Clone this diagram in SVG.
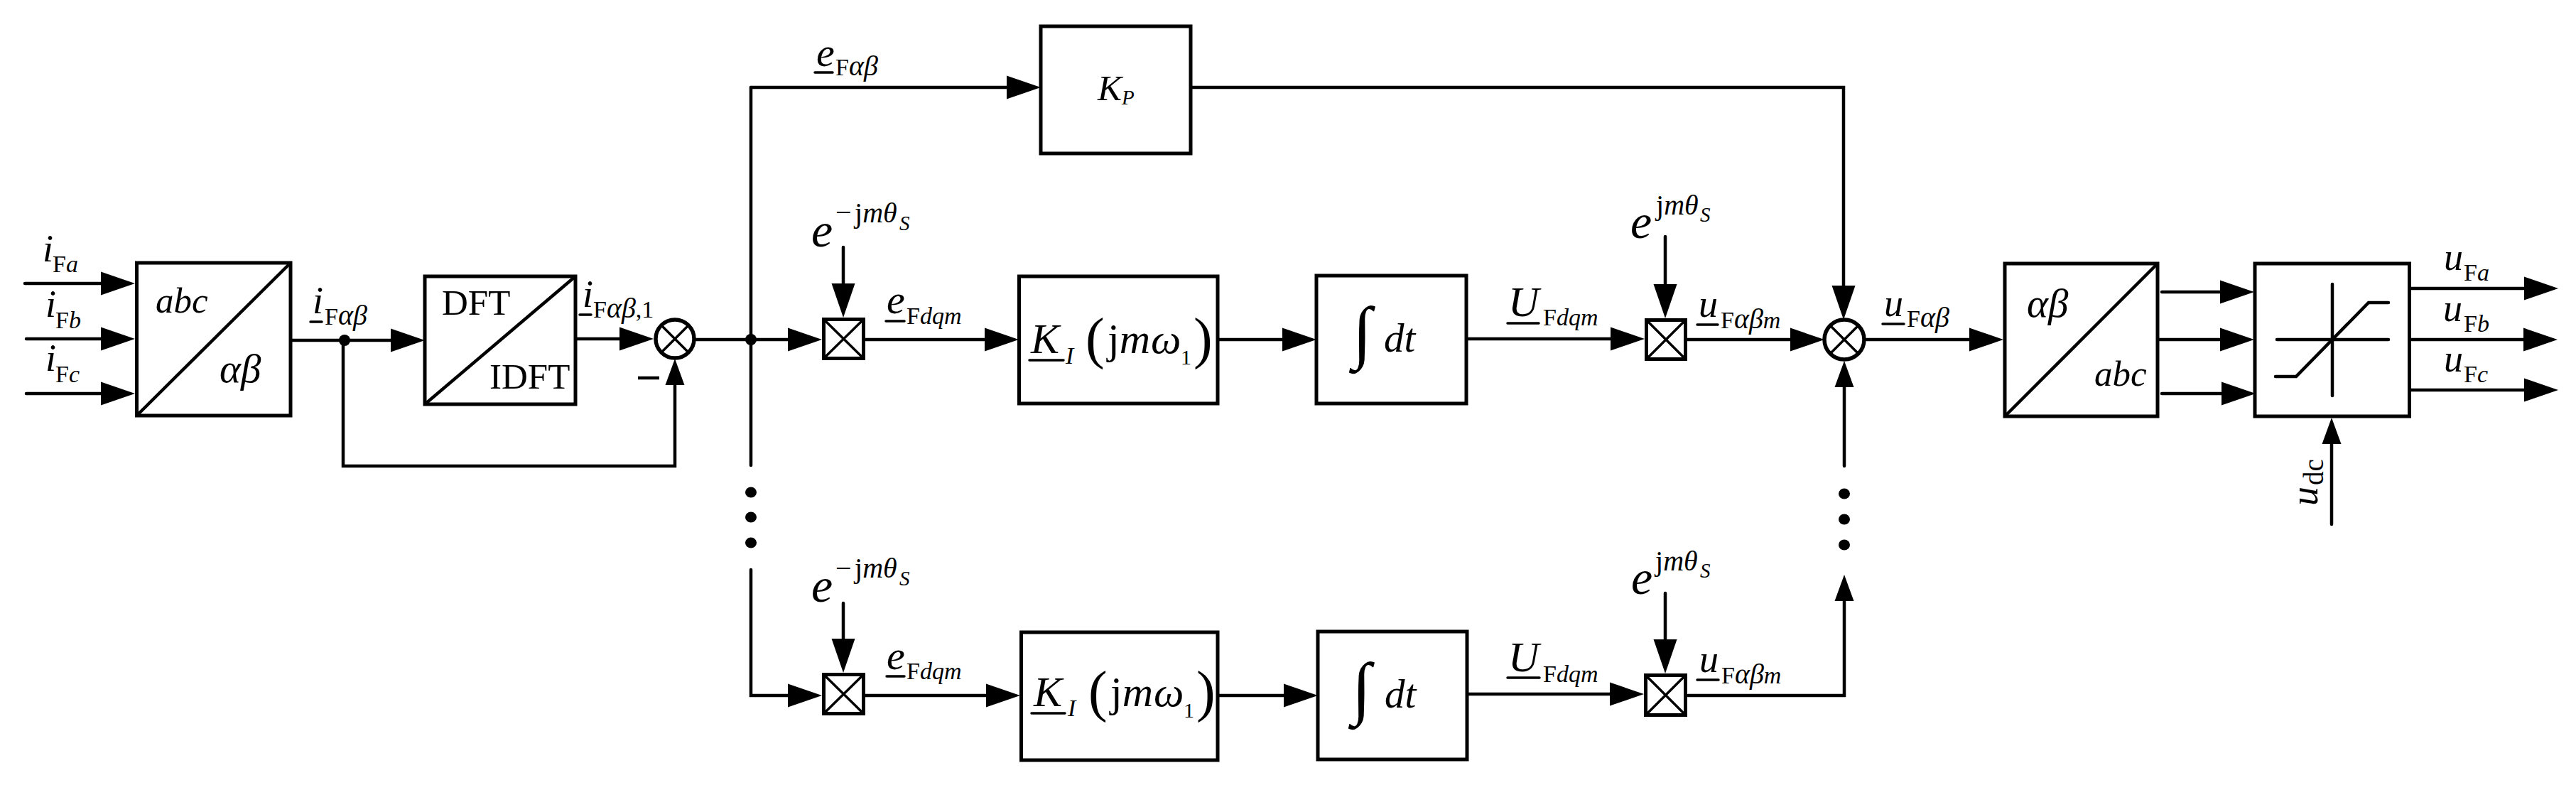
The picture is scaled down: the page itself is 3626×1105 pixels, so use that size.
<svg xmlns="http://www.w3.org/2000/svg" width="3626" height="1105" viewBox="0 0 3626 1105">
<defs>
<style>
text{font-family:"Liberation Serif","Times New Roman",serif;font-style:italic;font-size:54px;fill:#000}
.s{font-size:34px}
.g{font-size:40px}
.r{font-style:normal}
.b{font-size:51px}
.bg{font-size:57px}
.e{font-size:68px}
.le{font-size:58px}
.l{font-size:60px}
.dt{font-size:57px}
.p{font-size:80px;font-style:normal}
.int{font-size:98px;font-style:normal}
.sup{font-size:40px}
.ss{font-size:29px}
.one{font-size:30px;font-style:normal}
.dc{font-size:39px;font-style:normal}
.box{fill:#fff;stroke:#000;stroke-width:5}
.thin{fill:none;stroke:#000;stroke-width:4.5}
.x{fill:none;stroke:#000;stroke-width:3.5}
.ul{fill:none;stroke:#000;stroke-width:3.5;stroke-linecap:round}
.con{fill:none;stroke:#000;stroke-width:4.5;stroke-linecap:round;marker-end:url(#arrow)}
.con2{fill:none;stroke:#000;stroke-width:4.5;stroke-linecap:round;marker-end:url(#arrowN)}
.plain{fill:none;stroke:#000;stroke-width:4.5;stroke-linecap:round}
.sum{fill:#fff;stroke:#000;stroke-width:5.5}
</style>
<marker id="arrow" markerUnits="userSpaceOnUse" markerWidth="50" markerHeight="34" refX="38" refY="17" orient="auto"><path d="M0 0.5L48 17L0 33.5z"/></marker>
<marker id="arrowN" markerUnits="userSpaceOnUse" markerWidth="40" markerHeight="30" refX="27" refY="14" orient="auto"><path d="M0 0.5L37 14L0 27.5z"/></marker>
</defs>
<rect width="3626" height="1105" fill="#fff"/>
<g id="connectors">
<path class="con" d="M35 399H180"/>
<path class="con" d="M37 477H180"/>
<path class="con" d="M37 554H180"/>
<path class="con" d="M410 479H588"/>
<path class="con2" d="M483 479V656H950V515"/>
<path class="con" d="M812 477H910"/>
<path class="con" d="M979 478H1147"/>
<path class="plain" d="M1057 123V655"/>
<path class="con" d="M1057 802V979H1147"/>
<path class="con" d="M1057 123H1455"/>
<path class="con" d="M1678 123H2595V440"/>
<path class="con" d="M1187 348V437"/>
<path class="con" d="M1218 478H1424"/>
<path class="con" d="M1716 478H1843"/>
<path class="con" d="M2066 477H2305"/>
<path class="con" d="M2344 333V438"/>
<path class="con" d="M2375 478H2558"/>
<path class="con2" d="M2596 656V518"/>
<path class="con" d="M2627 478H2810"/>
<path class="con" d="M3043 411H3163"/>
<path class="con" d="M3039 478H3163"/>
<path class="con" d="M3043 554H3165"/>
<path class="con" d="M3393 406H3591"/>
<path class="con" d="M3393 478H3590"/>
<path class="con" d="M3393 549H3591"/>
<path class="con2" d="M3282 738V598"/>
<path class="con" d="M1187 849V937"/>
<path class="con" d="M1218 979H1426"/>
<path class="con" d="M1716 979H1845"/>
<path class="con" d="M2067 977H2304"/>
<path class="con" d="M2344 835V938"/>
<path class="con2" d="M2376 979H2596V819"/>
<circle cx="485" cy="479" r="8"/>
<circle cx="1057" cy="478" r="8"/>
</g>
<g id="dots">
<ellipse cx="1057" cy="693" rx="8" ry="7.5"/><ellipse cx="1057" cy="728" rx="8" ry="7.5"/><ellipse cx="1057" cy="764" rx="8" ry="7.5"/>
<ellipse cx="2596" cy="695" rx="8" ry="7.5"/><ellipse cx="2596" cy="731" rx="8" ry="7.5"/><ellipse cx="2596" cy="767" rx="8" ry="7.5"/>
</g>
<g id="abc-ab">
<rect class="box" x="192.5" y="370" width="216.5" height="215"/>
<path class="thin" d="M192.5 585L409 370"/>
<text class="b" x="219" y="440">abc</text>
<text class="bg" x="309" y="538">αβ</text>
</g>
<g id="dft">
<rect class="box" x="598" y="389" width="212" height="180"/>
<path class="thin" d="M598 569L810 389"/>
<text class="b r" x="622" y="443">DFT</text>
<text class="b r" x="689" y="547">IDFT</text>
</g>
<g id="sum1">
<circle class="sum" cx="950" cy="477" r="27"/>
<path class="x" d="M931 458L969 496M969 458L931 496"/>
<path class="thin" d="M898 532H928"/>
</g>
<g id="kp">
<rect class="box" x="1465" y="37" width="211" height="179"/>
<text class="b" x="1545" y="141">K<tspan class="ss" x="1579" y="147">P</tspan></text>
</g>
<g id="mult1">
<rect class="box" x="1159.5" y="449.5" width="56" height="55"/>
<path class="x" d="M1159.5 449.5L1215.5 504.5M1215.5 449.5L1159.5 504.5"/>
</g>
<g id="ki1">
<rect class="box" x="1434.5" y="389" width="279.5" height="179"/>
<text class="l" x="1451" y="497">K<tspan class="s" x="1500" y="512">I</tspan></text>
<path class="ul" d="M1449 507H1497"/>
<text class="p" x="1528" y="503">(</text>
<text class="l" x="1559" y="497"><tspan class="r">j</tspan>m</text>
<text class="l" x="1620" y="497">ω</text>
<text class="one" x="1662" y="513">1</text>
<text class="p" x="1680" y="503">)</text>
</g>
<g id="int1">
<rect class="box" x="1853" y="388" width="211" height="180"/>
<text class="int" x="1904" y="500">∫</text>
<text class="dt" x="1948" y="495">dt</text>
</g>
<g id="mult2">
<rect class="box" x="2317.5" y="450.5" width="55" height="55"/>
<path class="x" d="M2317.5 450.5L2372.5 505.5M2372.5 450.5L2317.5 505.5"/>
</g>
<g id="sum2">
<circle class="sum" cx="2596" cy="478" r="28"/>
<path class="x" d="M2576 458L2616 498M2616 458L2576 498"/>
</g>
<g id="ab-abc">
<rect class="box" x="2822" y="371" width="215" height="215"/>
<path class="thin" d="M2822 586L3037 371"/>
<text class="bg" x="2853" y="446">αβ</text>
<text class="b" x="2948" y="543">abc</text>
</g>
<g id="sat">
<rect class="box" x="3174" y="371" width="217.5" height="215"/>
<path class="plain" d="M3283 400V557"/>
<path class="plain" d="M3205 478H3362"/>
<path class="plain" d="M3203 530H3232L3334 426H3362"/>
</g>
<g id="mult3">
<rect class="box" x="1159.5" y="949.5" width="56" height="55"/>
<path class="x" d="M1159.5 949.5L1215.5 1004.5M1215.5 949.5L1159.5 1004.5"/>
</g>
<g id="ki2">
<rect class="box" x="1437.5" y="890" width="276.5" height="180"/>
<text class="l" x="1455" y="994">K<tspan class="s" x="1503" y="1008">I</tspan></text>
<path class="ul" d="M1452 1004H1499"/>
<text class="p" x="1532" y="1000">(</text>
<text class="l" x="1563" y="994"><tspan class="r">j</tspan>m</text>
<text class="l" x="1624" y="994">ω</text>
<text class="one" x="1666" y="1010">1</text>
<text class="p" x="1684" y="1000">)</text>
</g>
<g id="int2">
<rect class="box" x="1855" y="889" width="210" height="180"/>
<text class="int" x="1903" y="1001">∫</text>
<text class="dt" x="1949" y="996">dt</text>
</g>
<g id="mult4">
<rect class="box" x="2316.5" y="950.5" width="56" height="56"/>
<path class="x" d="M2316.5 950.5L2372.5 1006.5M2372.5 950.5L2316.5 1006.5"/>
</g>
<g id="labels">
<text x="60" y="368">i<tspan class="s r" x="74" y="383">F</tspan><tspan class="s">a</tspan></text>
<text x="64" y="446">i<tspan class="s r" x="78" y="462">F</tspan><tspan class="s">b</tspan></text>
<text x="64" y="522">i<tspan class="s r" x="78" y="538">F</tspan><tspan class="s">c</tspan></text>
<text x="440" y="441">i<tspan class="s r" x="457" y="457">F</tspan><tspan class="g">αβ</tspan></text>
<path class="ul" d="M437 453H453"/>
<text x="820" y="432">i<tspan class="s r" x="835" y="447">F</tspan><tspan class="g">αβ</tspan><tspan class="s r">,1</tspan></text>
<path class="ul" d="M816 443H832"/>
<text class="le" x="1149" y="93">e<tspan class="s r" x="1176" y="106">F</tspan><tspan class="g">αβ</tspan></text>
<path class="ul" d="M1147 102H1172"/>
<text class="e" x="1142" y="347">e</text>
<text class="sup r" x="1176" y="312">−</text>
<text class="sup r" x="1203" y="313">j<tspan style="font-style:italic">mθ</tspan><tspan class="ss" x="1266" y="324" style="font-style:italic">S</tspan></text>
<text class="le" x="1248" y="441">e<tspan class="s r" x="1276" y="456">F</tspan><tspan class="s">dqm</tspan></text>
<path class="ul" d="M1247 452H1273"/>
<text class="l" x="2123" y="445">U<tspan class="s r" x="2172" y="458">F</tspan><tspan class="s">dqm</tspan></text>
<path class="ul" d="M2122 455H2166"/>
<text class="e" x="2295" y="335">e</text>
<text class="sup r" x="2331" y="302">j<tspan style="font-style:italic">mθ</tspan><tspan class="ss" x="2393" y="312" style="font-style:italic">S</tspan></text>
<text x="2391" y="446">u<tspan class="s r" x="2422" y="462">F</tspan><tspan class="g">αβ</tspan><tspan class="s">m</tspan></text>
<path class="ul" d="M2389 457H2418"/>
<text x="2652" y="445">u<tspan class="s r" x="2684" y="460">F</tspan><tspan class="g">αβ</tspan></text>
<path class="ul" d="M2650 456H2680"/>
<text x="3440" y="380">u<tspan class="s r" x="3468" y="395">F</tspan><tspan class="s">a</tspan></text>
<text x="3439" y="452">u<tspan class="s r" x="3468" y="467">F</tspan><tspan class="s">b</tspan></text>
<text x="3440" y="523">u<tspan class="s r" x="3468" y="538">F</tspan><tspan class="s">c</tspan></text>
<text transform="translate(3262 712) rotate(-90)">u</text>
<text class="dc" transform="translate(3270 683) rotate(-90)">dc</text>
<text class="e" x="1142" y="847">e</text>
<text class="sup r" x="1176" y="813">−</text>
<text class="sup r" x="1203" y="813">j<tspan style="font-style:italic">mθ</tspan><tspan class="ss" x="1266" y="824" style="font-style:italic">S</tspan></text>
<text class="le" x="1248" y="942">e<tspan class="s r" x="1276" y="956">F</tspan><tspan class="s">dqm</tspan></text>
<path class="ul" d="M1248 952H1273"/>
<text class="l" x="2123" y="945">U<tspan class="s r" x="2172" y="960">F</tspan><tspan class="s">dqm</tspan></text>
<path class="ul" d="M2122 954H2167"/>
<text class="e" x="2296" y="836">e</text>
<text class="sup r" x="2330" y="803">j<tspan style="font-style:italic">mθ</tspan><tspan class="ss" x="2393" y="813" style="font-style:italic">S</tspan></text>
<text x="2392" y="946">u<tspan class="s r" x="2423" y="962">F</tspan><tspan class="g">αβ</tspan><tspan class="s">m</tspan></text>
<path class="ul" d="M2389 957H2419"/>
</g>
</svg>
